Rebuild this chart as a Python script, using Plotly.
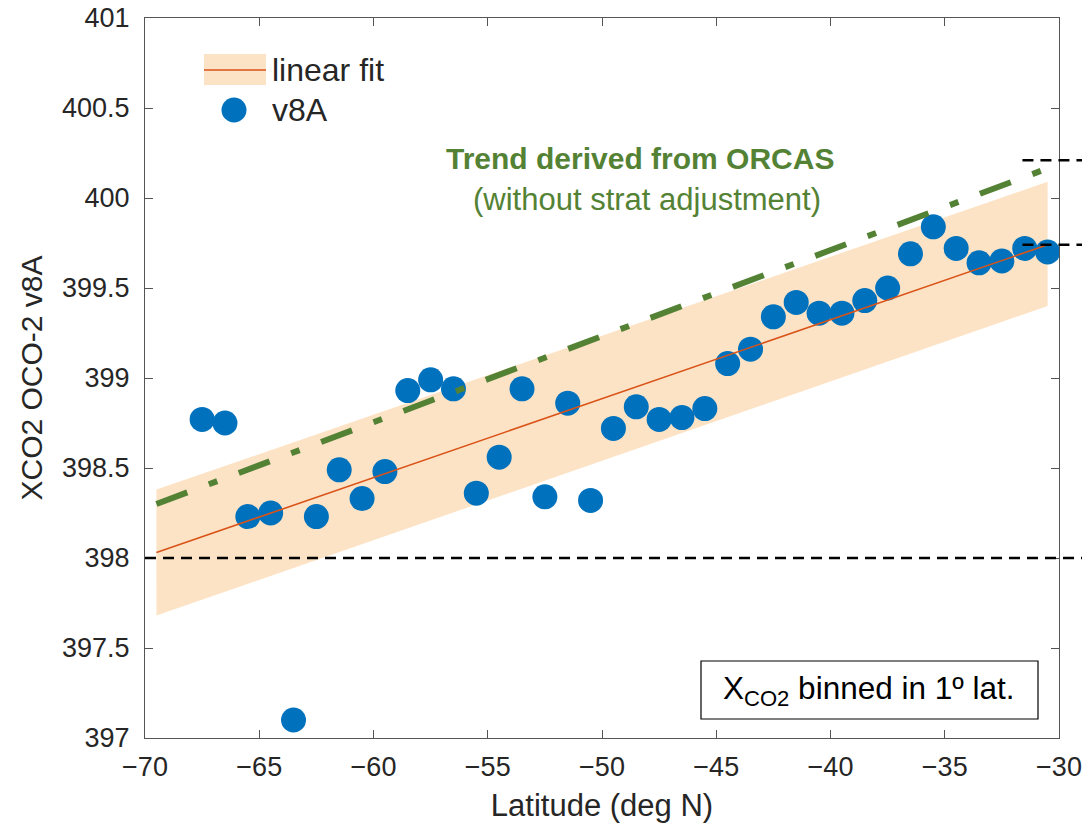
import plotly.graph_objects as go

# ---------------- data ----------------
lat = [-67.5, -66.5, -65.5, -64.5, -63.5, -62.5, -61.5, -60.5, -59.5, -58.5,
       -57.5, -56.5, -55.5, -54.5, -53.5, -52.5, -51.5, -50.5, -49.5, -48.5,
       -47.5, -46.5, -45.5, -44.5, -43.5, -42.5, -41.5, -40.5, -39.5, -38.5,
       -37.5, -36.5, -35.5, -34.5, -33.5, -32.5, -31.5, -30.5]
xco2_v8a = [398.77, 398.75, 398.23, 398.25, 397.10, 398.23, 398.49, 398.33, 398.48, 398.93,
            398.99, 398.94, 398.36, 398.56, 398.94, 398.34, 398.86, 398.32, 398.72, 398.84,
            398.77, 398.78, 398.83, 399.08, 399.16, 399.34, 399.42, 399.36, 399.36, 399.43,
            399.50, 399.69, 399.84, 399.72, 399.64, 399.65, 399.72, 399.70]

fit_lat = [-69.5, -30.5]
fit_val = [398.03, 399.74]
band_upper = [398.38, 400.09]
band_lower = [397.68, 399.40]

orcas_lat = [-69.5, -30.6]
orcas_val = [398.30, 400.16]

ref_full_level = 398.0
ref_short_levels = [400.21, 399.74]
ref_short_start_lat = -31.6

x_range = [-70, -30]
y_range = [397, 401]
x_ticks = [-70, -65, -60, -55, -50, -45, -40, -35, -30]
x_ticklabels = ["\u221270", "\u221265", "\u221260", "\u221255", "\u221250",
                "\u221245", "\u221240", "\u221235", "\u221230"]
y_ticks = [397, 397.5, 398, 398.5, 399, 399.5, 400, 400.5, 401]
y_ticklabels = ["397", "397.5", "398", "398.5", "399", "399.5", "400", "400.5", "401"]

# ---------------- styles ----------------
W, H = 1082, 824
PL, PR, PT, PB = 145, 1059, 18, 738
FONT = "Liberation Sans, Arial, Helvetica, sans-serif"
TXT = "#262626"
BLUE = "#0072BD"
ORANGE = "#D95319"
PEACH = "rgb(253,227,197)"
GREEN = "#548235"


def px(x):
    return (x - PL) / (PR - PL)


def py(y):
    return 1 - (y - PT) / (PB - PT)


def yval_paper(v):
    return (v - y_range[0]) / (y_range[1] - y_range[0])


def xval_paper(v):
    return (v - x_range[0]) / (x_range[1] - x_range[0])


fig = go.Figure()

# uncertainty band
fig.add_trace(go.Scatter(
    x=fit_lat + fit_lat[::-1], y=band_upper + band_lower[::-1],
    fill="toself", fillcolor=PEACH, line=dict(width=0), mode="lines",
    hoverinfo="skip", showlegend=False))

# data points
fig.add_trace(go.Scatter(
    x=lat, y=xco2_v8a, mode="markers",
    marker=dict(size=25, color=BLUE, line=dict(width=0)),
    showlegend=False, name="v8A"))

# linear fit
fig.add_trace(go.Scatter(
    x=fit_lat, y=fit_val, mode="lines",
    line=dict(color=ORANGE, width=1.6), showlegend=False, name="linear fit"))

# ORCAS trend
fig.add_trace(go.Scatter(
    x=orcas_lat, y=orcas_val, mode="lines",
    line=dict(color=GREEN, width=6, dash="33px,23px,9px,23px"),
    showlegend=False, name="ORCAS trend"))

DASH = dict(color="black", width=2.5, dash="11px,7px")
shapes = []
# horizontal reference lines (extend past the right axis)
shapes.append(dict(type="line", xref="paper", yref="paper",
                   x0=0, x1=px(W), y0=yval_paper(ref_full_level), y1=yval_paper(ref_full_level),
                   line=DASH, layer="above"))
for lv in ref_short_levels:
    shapes.append(dict(type="line", xref="paper", yref="paper",
                       x0=xval_paper(ref_short_start_lat), x1=px(W),
                       y0=yval_paper(lv), y1=yval_paper(lv),
                       line=DASH, layer="above"))

# manual legend
shapes.append(dict(type="rect", xref="paper", yref="paper",
                   x0=px(204), x1=px(266), y0=py(85), y1=py(54),
                   fillcolor=PEACH, line=dict(width=0)))
shapes.append(dict(type="line", xref="paper", yref="paper",
                   x0=px(204), x1=px(266), y0=py(70), y1=py(70),
                   line=dict(color=ORANGE, width=1.6)))
shapes.append(dict(type="circle", xref="paper", yref="paper",
                   xsizemode="pixel", ysizemode="pixel",
                   xanchor=px(234), yanchor=py(110),
                   x0=-12.5, x1=12.5, y0=-12.5, y1=12.5,
                   fillcolor=BLUE, line=dict(width=0)))
# annotation box
shapes.append(dict(type="rect", xref="paper", yref="paper",
                   x0=px(701), x1=px(1038), y0=py(719), y1=py(661),
                   fillcolor="white", line=dict(color="black", width=1.2), layer="above"))

annotations = [
    dict(text="linear fit", x=px(270), y=py(70), xref="paper", yref="paper",
         xanchor="left", yanchor="middle", showarrow=False,
         font=dict(size=32, color=TXT, family=FONT)),
    dict(text="v8A", x=px(270), y=py(110), xref="paper", yref="paper",
         xanchor="left", yanchor="middle", showarrow=False,
         font=dict(size=32, color=TXT, family=FONT)),
    dict(text="<b>Trend derived from ORCAS</b>", x=px(640), y=py(159), xref="paper", yref="paper",
         xanchor="center", yanchor="middle", showarrow=False,
         font=dict(size=30, color=GREEN, family=FONT)),
    dict(text="(without strat adjustment)", x=px(647), y=py(199), xref="paper", yref="paper",
         xanchor="center", yanchor="middle", showarrow=False,
         font=dict(size=31, color=GREEN, family=FONT)),
    dict(text="X<sub>CO2</sub> binned in 1\u00ba lat.", x=px(869), y=py(690), xref="paper", yref="paper",
         xanchor="center", yanchor="middle", showarrow=False,
         font=dict(size=31.5, color="black", family=FONT)),
]

axis_common = dict(
    showgrid=False, zeroline=False, showline=True, linecolor="#555555", linewidth=1,
    mirror="ticks", ticks="inside", ticklen=8, tickwidth=1, tickcolor="#555555",
    tickfont=dict(size=27, color=TXT, family=FONT),
)

fig.update_layout(
    width=W, height=H,
    margin=dict(l=PL, r=W - PR, t=PT, b=H - PB, autoexpand=False),
    paper_bgcolor="white", plot_bgcolor="white",
    showlegend=False,
    xaxis=dict(range=x_range, tickvals=x_ticks, ticktext=x_ticklabels,
               title=dict(text="Latitude (deg N)", font=dict(size=31, color=TXT, family=FONT), standoff=12),
               ticklabelstandoff=5, **axis_common),
    yaxis=dict(range=y_range, tickvals=y_ticks, ticktext=y_ticklabels,
               title=dict(text="XCO2 OCO-2 v8A", font=dict(size=30, color=TXT, family=FONT), standoff=10),
               ticklabelstandoff=9, **axis_common),
    shapes=shapes,
    annotations=annotations,
)

fig.write_html("out.html")
